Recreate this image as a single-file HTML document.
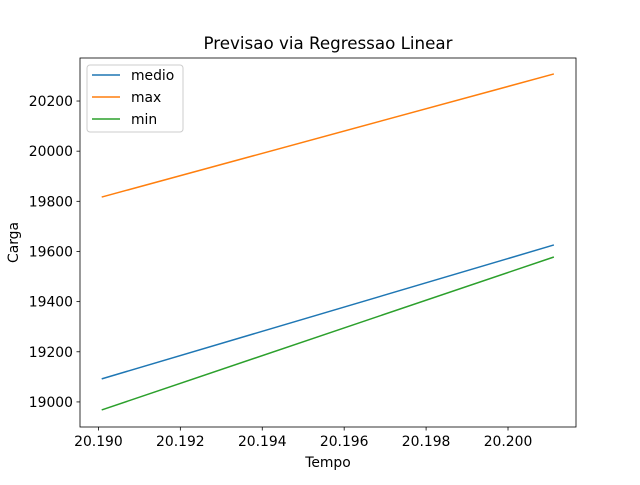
<!DOCTYPE html>
<html><head><meta charset="utf-8"><style>
body{margin:0;background:#fff;}
svg text{font-family:"DejaVu Sans","Liberation Sans",sans-serif;fill:#000;}
</style></head><body>
<svg id="chart" width="640" height="480" viewBox="0 0 640 480" xmlns="http://www.w3.org/2000/svg">
<rect width="640" height="480" fill="#fff"/>
<g id="plot"></g>
</svg>
<script>
const xValues = [20.19008, 20.20112];
const medioValues = [19092, 19626];
const maxValues = [19817, 20308];
const minValues = [18968, 19578];
const xTicks = [20.190, 20.192, 20.194, 20.196, 20.198, 20.200];
const xTickLabels = ["20.190","20.192","20.194","20.196","20.198","20.200"];
const yTicks = [19000, 19200, 19400, 19600, 19800, 20000, 20200];
const yTickLabels = ["19000","19200","19400","19600","19800","20000","20200"];
const seriesNames = ["medio","max","min"];

const L=80,R=576,T=58,B=427;
const xMin=20.18955,xMax=20.20166,yMin=18900,yMax=20371.6;
const sx=v=>L+(v-xMin)/(xMax-xMin)*(R-L);
const sy=v=>B-(v-yMin)/(yMax-yMin)*(B-T);
const NS="http://www.w3.org/2000/svg";
const g=document.getElementById('plot');
function mk(tag,attrs,parent){const e=document.createElementNS(NS,tag);for(const k in attrs)e.setAttribute(k,attrs[k]);(parent||g).appendChild(e);return e;}

const colors=["#1f77b4","#ff7f0e","#2ca02c"];
const series=[medioValues,maxValues,minValues];
series.forEach((s,i)=>{
  const p=mk('polyline',{points:s.map((v,j)=>sx(xValues[j])+','+sy(v)).join(' '),fill:'none',stroke:colors[i],'stroke-width':1.5});
  
  
});

const frame=mk('rect',{x:L,y:T,width:R-L,height:B-T,fill:'none',stroke:'#000','stroke-width':0.8});



xTicks.forEach((v,i)=>{
  const x=sx(v);
  mk('line',{x1:x,x2:x,y1:B,y2:B+3.5,stroke:'#000','stroke-width':0.8});
  const t=mk('text',{x:x,y:B+19,'font-size':13.9,'text-anchor':'middle'});
  t.textContent=xTickLabels[i];
  
  
});
yTicks.forEach((v,i)=>{
  const y=sy(v);
  mk('line',{x1:L-3.5,x2:L,y1:y,y2:y,stroke:'#000','stroke-width':0.8});
  const t=mk('text',{x:L-7,y:y+5,'font-size':13.9,'text-anchor':'end'});
  t.textContent=yTickLabels[i];
  
  
});

const title=mk('text',{x:(L+R)/2,y:49,'font-size':16.7,'text-anchor':'middle'});
title.textContent="Previsao via Regressao Linear";


const xl=mk('text',{x:(L+R)/2,y:467,'font-size':13.9,'text-anchor':'middle'});
xl.textContent="Tempo";


const yl=mk('text',{x:0,y:0,'font-size':13.9,'text-anchor':'middle',transform:'translate(18,'+((T+B)/2)+') rotate(-90)'});
yl.textContent="Carga";



const lg=mk('g',{});


mk('rect',{x:87,y:65,width:96,height:67,rx:3,fill:'#fff','fill-opacity':0.8,stroke:'#ccc','stroke-width':1},lg);
seriesNames.forEach((n,i)=>{
  const y=75+i*22;
  mk('line',{x1:92,x2:120,y1:y,y2:y,stroke:colors[i],'stroke-width':1.5},lg);
  const t=mk('text',{x:131,y:y+5,'font-size':13.9},lg);
  t.textContent=n;
  
  
});
</script>
</body></html>
